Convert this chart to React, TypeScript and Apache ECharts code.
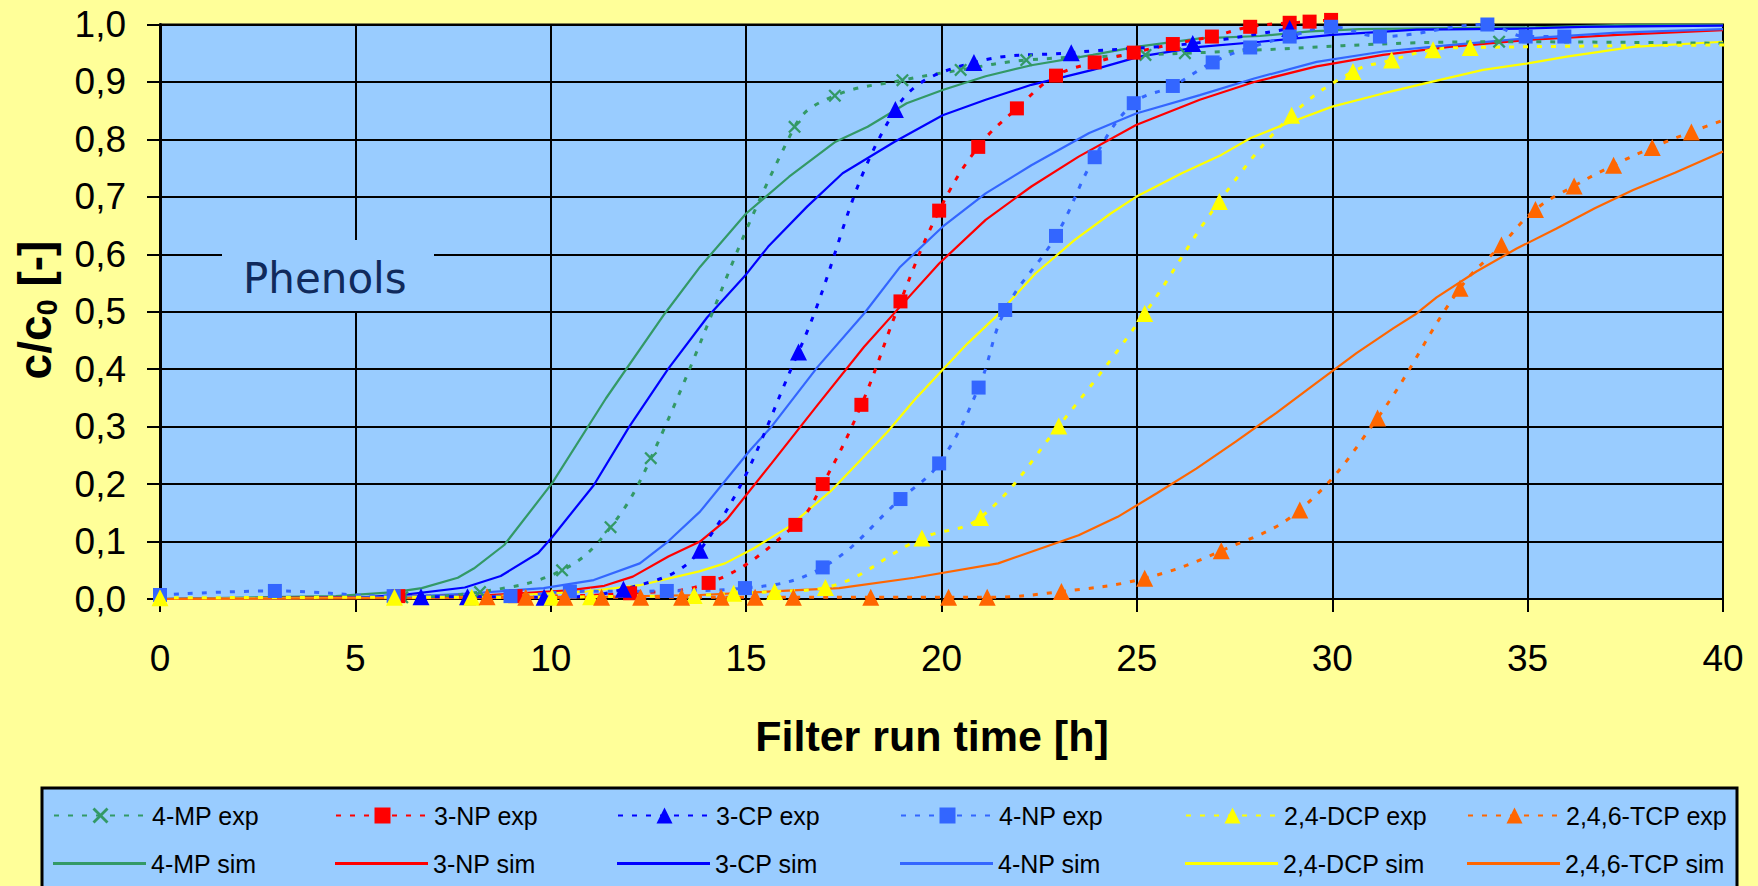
import React, { useEffect, useRef } from 'react';
import * as echarts from 'echarts';

// ---------- data (hours, c/c0) ----------
const MP_EXP: [number, number][] = [
  [6.2, 0.003], [8.19, 0.012], [10.29, 0.05], [11.53, 0.125], [12.56, 0.245], [16.24, 0.822],
  [17.27, 0.876], [19.0, 0.903], [20.49, 0.921], [22.17, 0.938], [25.22, 0.947], [26.23, 0.95],
  [34.27, 0.97], [41.5, 0.966],
];
const NP3_EXP: [number, number][] = [
  [6.1, 0.005], [9.1, 0.005], [12.03, 0.01], [14.04, 0.028], [16.26, 0.129], [16.96, 0.2],
  [17.95, 0.338], [18.95, 0.518], [19.94, 0.676], [20.94, 0.787], [21.93, 0.854], [22.93, 0.911],
  [23.92, 0.934], [24.92, 0.951], [25.92, 0.966], [26.92, 0.979], [27.9, 0.996], [28.91, 1.003],
  [29.42, 1.005], [29.97, 1.008],
];
const CP3_EXP: [number, number][] = [
  [6.68, 0.004], [7.87, 0.004], [9.83, 0.003], [11.86, 0.017], [13.82, 0.085], [16.34, 0.43],
  [18.82, 0.852], [20.83, 0.934], [23.32, 0.951], [26.43, 0.967], [28.91, 0.993],
];
const NP4_EXP: [number, number][] = [
  [0, 0.007], [2.94, 0.014], [5.98, 0.005], [8.97, 0.005], [10.49, 0.013], [12.97, 0.014],
  [14.97, 0.019], [16.96, 0.055], [18.95, 0.174], [19.94, 0.236], [20.95, 0.368], [21.63, 0.503],
  [22.93, 0.632], [23.92, 0.769], [24.92, 0.863], [25.92, 0.893], [26.94, 0.934], [27.9, 0.96],
  [28.91, 0.979], [29.97, 0.996], [31.22, 0.979], [33.97, 1.0], [34.95, 0.979], [35.94, 0.979],
];
const DCP_EXP: [number, number][] = [
  [0, 0.002], [6.0, 0.003], [7.98, 0.003], [10.03, 0.003], [11.02, 0.004], [13.67, 0.006],
  [14.68, 0.01], [15.73, 0.013], [17.03, 0.02], [19.5, 0.106], [21.0, 0.142], [23.0, 0.301],
  [25.2, 0.497], [27.11, 0.692], [28.96, 0.842], [30.53, 0.918], [31.52, 0.938], [32.58, 0.956],
  [33.53, 0.96], [41.5, 0.965],
];
const TCP_EXP: [number, number][] = [
  [8.37, 0.004], [9.36, 0.003], [10.36, 0.003], [11.3, 0.003], [12.3, 0.003], [13.35, 0.003],
  [14.36, 0.003], [15.23, 0.003], [16.21, 0.003], [18.19, 0.003], [20.18, 0.003], [21.17, 0.003],
  [23.07, 0.013], [25.2, 0.036], [27.16, 0.084], [29.17, 0.155], [31.16, 0.315], [33.27, 0.541],
  [34.33, 0.616], [35.2, 0.678], [36.19, 0.719], [37.2, 0.755], [38.19, 0.786], [39.19, 0.813],
  [40.2, 0.838],
];

const MP_SIM: [number, number][] = [
  [0, 0], [4.5, 0.005], [6.0, 0.012], [6.7, 0.019], [7.62, 0.037], [8.03, 0.053], [8.81, 0.094],
  [10.04, 0.202], [11.41, 0.349], [12.92, 0.497], [13.82, 0.578], [15.0, 0.671], [16.1, 0.735],
  [17.29, 0.796], [18.11, 0.822], [19.11, 0.863], [20.03, 0.886], [21.13, 0.91], [22.3, 0.929],
  [23.87, 0.947], [24.98, 0.961], [26.61, 0.976], [28.15, 0.98], [29.43, 0.988], [30.7, 0.992],
  [35.2, 0.995], [37.7, 1.0], [40, 1.0],
];
const NP3_SIM: [number, number][] = [
  [0, 0], [8, 0.005], [10.46, 0.015], [11.37, 0.023], [12.1, 0.039], [13.01, 0.074], [13.82, 0.1],
  [14.5, 0.138], [15.65, 0.236], [16.83, 0.338], [18.02, 0.439], [18.89, 0.505], [19.94, 0.584],
  [21.13, 0.66], [22.3, 0.718], [23.51, 0.77], [24.98, 0.825], [26.61, 0.869], [28.0, 0.9],
  [29.6, 0.927], [31.3, 0.947], [33, 0.961], [35, 0.973], [37.3, 0.982], [40, 0.99],
];
const CP3_SIM: [number, number][] = [
  [0, 0], [5, 0.002], [6.34, 0.008], [7.8, 0.02], [8.72, 0.04], [9.68, 0.08], [10.04, 0.108],
  [11.1, 0.198], [12.01, 0.3], [13.0, 0.4], [14.0, 0.49], [15.0, 0.565], [15.56, 0.613],
  [16.56, 0.683], [17.47, 0.741], [18.8, 0.796], [20.03, 0.842], [21.13, 0.869], [22.3, 0.895],
  [23.87, 0.921], [25.06, 0.944], [26.61, 0.961], [28.15, 0.97], [30, 0.982], [32.16, 0.991],
  [35, 0.993], [36.4, 0.996], [40, 0.998],
];
const NP4_SIM: [number, number][] = [
  [0, 0], [6, 0.003], [8, 0.01], [9.82, 0.019], [11.1, 0.033], [12.28, 0.062], [13.0, 0.1],
  [13.82, 0.152], [15.1, 0.259], [15.65, 0.3], [16.83, 0.404], [18.02, 0.497], [18.94, 0.578],
  [20.03, 0.648], [21.13, 0.706], [22.3, 0.755], [23.78, 0.811], [24.98, 0.845], [26.61, 0.877],
  [28.0, 0.906], [29.6, 0.935], [31.3, 0.953], [33, 0.964], [35, 0.976], [37.3, 0.986], [40, 0.992],
];
const DCP_SIM: [number, number][] = [
  [0, 0], [8, 0.003], [10.91, 0.013], [12.28, 0.024], [13.8, 0.048], [14.46, 0.062], [15.19, 0.088],
  [16.1, 0.126], [17.2, 0.19], [17.93, 0.242], [18.62, 0.291], [19.3, 0.346], [20.03, 0.399],
  [20.67, 0.445], [21.4, 0.492], [22.41, 0.567], [23.41, 0.625], [24.33, 0.671], [24.98, 0.7],
  [26.15, 0.741], [27.16, 0.773], [27.9, 0.802], [28.74, 0.825], [30.0, 0.857], [31.3, 0.88],
  [32.4, 0.898], [33.86, 0.921], [34.97, 0.932], [36.0, 0.944], [37.7, 0.961], [40, 0.97],
];
const TCP_SIM: [number, number][] = [
  [0, 0], [10, 0.002], [13.82, 0.007], [17.38, 0.019], [19.3, 0.037], [21.45, 0.062], [22.41, 0.085],
  [23.51, 0.111], [24.51, 0.143], [25.51, 0.184], [26.52, 0.227], [27.53, 0.274], [28.57, 0.324],
  [29.51, 0.372], [30.07, 0.4], [30.62, 0.428], [31.56, 0.471], [32.16, 0.497], [32.67, 0.525],
  [33.69, 0.57], [34.72, 0.61], [35.74, 0.645], [36.72, 0.68], [37.7, 0.712], [38.77, 0.742],
  [40, 0.779],
];

const EXP_NAMES = ['4-MP exp', '3-NP exp', '3-CP exp', '4-NP exp', '2,4-DCP exp', '2,4,6-TCP exp'];
const SIM_NAMES = ['4-MP sim', '3-NP sim', '3-CP sim', '4-NP sim', '2,4-DCP sim', '2,4,6-TCP sim'];
const COLORS = ['#339966', '#FF0000', '#0000FF', '#3366FF', '#FFFF00', '#FF6600'];
const EXP_DATA = [MP_EXP, NP3_EXP, CP3_EXP, NP4_EXP, DCP_EXP, TCP_EXP];
const SIM_DATA = [MP_SIM, NP3_SIM, CP3_SIM, NP4_SIM, DCP_SIM, TCP_SIM];

const CROSS = 'path://M0,1.5L1.5,0L6,4.5L10.5,0L12,1.5L7.5,6L12,10.5L10.5,12L6,7.5L1.5,12L0,10.5L4.5,6Z';
const EXP_SYMBOLS = [CROSS, 'rect', 'triangle', 'rect', 'triangle', 'triangle'];
const EXP_SIZES = [13, 14, 17, 14, 17, 17];
const EXP_CLIP = [true, false, true, false, true, true];

const FONT = 'Liberation Sans, Arial, sans-serif';
const LEGEND_LEFTS = [53, 335, 617, 900, 1185, 1467];

export default function App() {
  const ref = useRef<HTMLDivElement>(null);
  useEffect(() => {
    document.body.style.margin = '0';
    const chart = echarts.init(ref.current!, null, { renderer: 'svg' });

    const simSeries = SIM_NAMES.map((name, i) => ({
      type: 'line',
      name,
      data: SIM_DATA[i],
      symbol: 'none',
      smooth: false,
      lineStyle: { color: COLORS[i], width: 2.2 },
      itemStyle: { color: COLORS[i] },
      z: 2,
    }));
    const expSeries = EXP_NAMES.map((name, i) => ({
      type: 'line',
      name,
      data: EXP_DATA[i],
      symbol: EXP_SYMBOLS[i],
      symbolSize: EXP_SIZES[i],
      showAllSymbol: true,
      smooth: 0.4,
      clip: EXP_CLIP[i],
      lineStyle: { color: COLORS[i], width: 3, type: [5, 9] },
      itemStyle: { color: COLORS[i] },
      z: 3,
    }));

    const legendText = { fontSize: 25, fontFamily: FONT, color: '#000', lineHeight: 20 };
    const legends: any[] = [];
    EXP_NAMES.forEach((name, i) => {
      legends.push({
        data: [name], left: LEGEND_LEFTS[i], top: 803, padding: 0,
        itemWidth: 93, itemHeight: 20, selectedMode: false, textStyle: legendText,
      });
    });
    SIM_NAMES.forEach((name, i) => {
      legends.push({
        data: [{ name, icon: 'rect' }], left: LEGEND_LEFTS[i], top: 851, padding: 0,
        itemWidth: 93, itemHeight: 3, selectedMode: false, textStyle: legendText,
      });
    });

    chart.setOption({
      animation: false,
      backgroundColor: '#FFFF99',
      grid: {
        left: 160, right: 35, top: 24.5, bottom: 287,
        show: true, backgroundColor: '#99CCFF', borderColor: '#000', borderWidth: 2,
      },
      xAxis: {
        type: 'value', min: 0, max: 40, interval: 5,
        axisLine: { show: true, onZero: false, lineStyle: { color: '#000', width: 2 } },
        axisTick: { show: true, length: 13, lineStyle: { color: '#000', width: 2 } },
        axisLabel: { margin: 41, fontSize: 37, fontFamily: FONT, color: '#000' },
        splitLine: { show: true, lineStyle: { color: '#000', width: 2 } },
      },
      yAxis: {
        type: 'value', min: 0, max: 1, interval: 0.1,
        axisLine: { show: true, lineStyle: { color: '#000', width: 3 } },
        axisTick: { show: true, length: 13, lineStyle: { color: '#000', width: 2 } },
        axisLabel: {
          margin: 34, fontSize: 37, fontFamily: FONT, color: '#000',
          formatter: (v: number) => v.toFixed(1).replace('.', ','),
        },
        splitLine: { show: true, lineStyle: { color: '#000', width: 2 } },
      },
      legend: legends,
      graphic: [
        {
          type: 'rect', z: 1, silent: true,
          shape: { x: 42, y: 788, width: 1695, height: 130 },
          style: { fill: '#99CCFF', stroke: '#000', lineWidth: 3 },
        },
        {
          type: 'rect', z: 1, silent: true,
          shape: { x: 222, y: 240, width: 212, height: 71 },
          style: { fill: '#99CCFF' },
        },
        {
          type: 'text', z: 1, silent: true, x: 243, y: 278,
          style: {
            text: 'Phenols', fontSize: 42, fontFamily: 'DejaVu Sans, Verdana, sans-serif',
            fill: '#102A5C', align: 'left', verticalAlign: 'middle',
          },
        },
        {
          type: 'text', z: 1, silent: true, x: 932, y: 736,
          style: {
            text: 'Filter run time [h]', fontSize: 43, fontWeight: 'bold', fontFamily: FONT,
            fill: '#000', align: 'center', verticalAlign: 'middle',
          },
        },
        {
          type: 'text', z: 1, silent: true, x: 35, y: 310, rotation: Math.PI / 2,
          style: {
            text: '{a|c/c}{b|0}{a| [-]}',
            align: 'center', verticalAlign: 'middle', fill: '#000',
            rich: {
              a: { fontSize: 46, fontWeight: 'bold', fontFamily: FONT, lineHeight: 52, fill: '#000' },
              b: { fontSize: 29, fontWeight: 'bold', fontFamily: FONT, lineHeight: 31, verticalAlign: 'bottom', fill: '#000' },
            },
          },
        },
      ],
      series: [...simSeries, ...expSeries],
    });
    return () => chart.dispose();
  }, []);
  return <div ref={ref} style={{ position: 'absolute', left: 0, top: 0, width: 1758, height: 886 }} />;
}
